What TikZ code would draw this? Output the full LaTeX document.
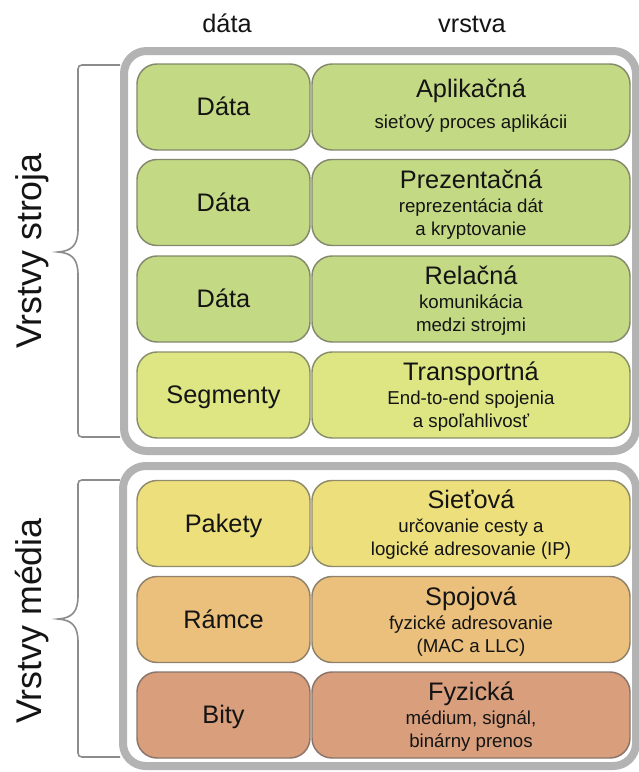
\documentclass[tikz,border=0pt]{standalone}
\usepackage{fontspec}
\setmainfont{Liberation Sans}
\definecolor{cgreen}{RGB}{196,217,132}
\definecolor{cyg}{RGB}{221,230,131}
\definecolor{cyel}{RGB}{237,223,124}
\definecolor{corange}{RGB}{235,192,124}
\definecolor{cbrown}{RGB}{217,158,124}
\definecolor{framegray}{RGB}{179,179,179}
\definecolor{bracegray}{RGB}{140,140,140}
\definecolor{textcol}{RGB}{20,20,20}
\begin{document}
\begin{tikzpicture}[x=0.75pt,y=-0.75pt,
  frame/.style={draw=framegray, line width=6pt, rounded corners=17pt},
  layerbox/.style={draw=#1!45!black!75, fill=#1, line width=1.1pt, rounded corners=15pt,
     minimum height=64.5pt, inner sep=0pt, text=textcol,
     font=\fontsize{19}{22}\selectfont, text height=12.8pt, text depth=0pt},
  leftbox/.style={layerbox=#1, minimum width=129.75pt},
  rightbox/.style={layerbox=#1, minimum width=238.5pt},
  ttl/.style={anchor=base, inner sep=0pt, text=textcol, font=\fontsize{19}{22}\selectfont},
  sub/.style={anchor=base, inner sep=0pt, text=textcol, font=\fontsize{14}{17}\selectfont},
  hdr/.style={anchor=base, inner sep=0pt, text=textcol, font=\fontsize{19}{22}\selectfont},
  side/.style={rotate=90, anchor=base, inner sep=0pt, text=textcol, font=\fontsize{26.8}{31}\selectfont},
  brace/.style={draw=bracegray, line width=1.2pt}
]
\useasboundingbox (0,0) rectangle (639,772);

% headers
\node[hdr] (hdata) at (227,32) {dáta};
\node[hdr] (hvrstva) at (472,32) {vrstva};

% braces
\draw[brace] (120,65) -- (82,65) .. controls (79.5,65) and (78,66.5) .. (78,69) -- (78,229)
  .. controls (78,245) and (72,251) .. (58,252) .. controls (72,253) and (78,259) .. (78,275)
  -- (78,433) .. controls (78,435.5) and (79.5,437) .. (82,437) -- (120,437);
\draw[brace] (120,480) -- (82,480) .. controls (79.5,480) and (78,481.5) .. (78,484) -- (78,596)
  .. controls (78,612) and (72,618) .. (58,619) .. controls (72,620) and (78,626) .. (78,642)
  -- (78,753) .. controls (78,755.5) and (79.5,757) .. (82,757) -- (120,757);

% side labels
\node[side] (lstroj) at (41,251) {Vrstvy stroja};
\node[side] (lmedia) at (41,621) {Vrstvy média};

% frames
\draw[frame] (124,51) rectangle (636,451);
\draw[frame] (123,466) rectangle (636,766);

% left boxes
\node[leftbox=cgreen]  (d1) at (223.5,107)   {Dáta};
\node[leftbox=cgreen]  (d2) at (223.5,202.5) {Dáta};
\node[leftbox=cgreen]  (d3) at (223.5,299)   {Dáta};
\node[leftbox=cyg]     (d4) at (223.5,395)   {Segmenty};
\node[leftbox=cyel]    (d5) at (223.5,523.5) {Pakety};
\node[leftbox=corange] (d6) at (223.5,619.5) {Rámce};
\node[leftbox=cbrown]  (d7) at (223.5,715)   {Bity};

% right boxes
\node[rightbox=cgreen]  (r1) at (471,107)   {};
\node[rightbox=cgreen]  (r2) at (471,202.5) {};
\node[rightbox=cgreen]  (r3) at (471,299)   {};
\node[rightbox=cyg]     (r4) at (471,395)   {};
\node[rightbox=cyel]    (r5) at (471,523.5) {};
\node[rightbox=corange] (r6) at (471,619.5) {};
\node[rightbox=cbrown]  (r7) at (471,715)   {};

% texts in right boxes
\node[ttl] (t1) at (471,97) {Aplikačná};
\node[sub] (s1) at (471,128) {sieťový proces aplikácii};

\node[ttl] (t2) at (471,188) {Prezentačná};
\node[sub] (s2a) at (471,212) {reprezentácia dát};
\node[sub] (s2b) at (471,235) {a kryptovanie};

\node[ttl] (t3) at (471,284) {Relačná};
\node[sub] (s3a) at (471,308) {komunikácia};
\node[sub] (s3b) at (471,331) {medzi strojmi};

\node[ttl] (t4) at (471,380) {Transportná};
\node[sub] (s4a) at (471,404) {End-to-end spojenia};
\node[sub] (s4b) at (471,427) {a spoľahlivosť};

\node[ttl] (t5) at (471,508) {Sieťová};
\node[sub] (s5a) at (471,532) {určovanie cesty a};
\node[sub] (s5b) at (471,555) {logické adresovanie (IP)};

\node[ttl] (t6) at (471,605) {Spojová};
\node[sub] (s6a) at (471,629) {fyzické adresovanie};
\node[sub] (s6b) at (471,652) {(MAC a LLC)};

\node[ttl] (t7) at (471,700) {Fyzická};
\node[sub] (s7a) at (471,724) {médium, signál,};
\node[sub] (s7b) at (471,747) {binárny prenos};
\end{tikzpicture}
\end{document}
